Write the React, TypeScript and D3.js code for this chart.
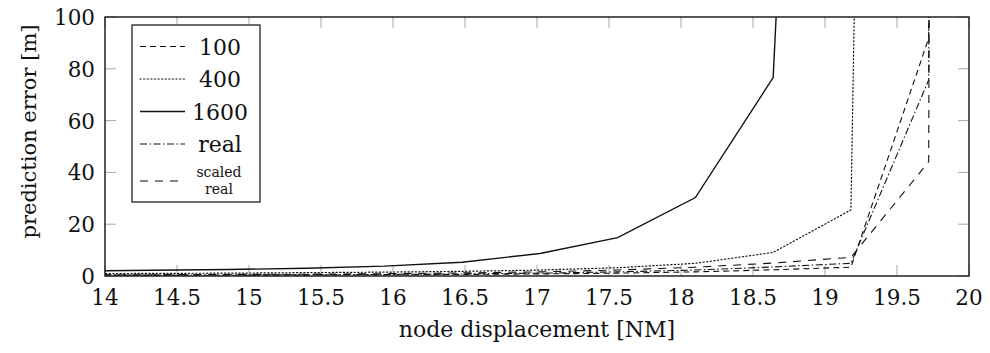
import React from "react";
import * as d3 from "d3";

// Node displacement samples [NM]
const displacement = [13.78, 14.32, 14.86, 15.4, 15.94, 16.48, 17.02, 17.56, 18.1, 18.64, 19.18, 19.72, 20.26];

// Prediction error [m] per configuration
const err100 = [0.2, 0.25, 0.3, 0.35, 0.45, 0.6, 0.8, 1.1, 1.6, 2.4, 3.4, 91.8, 10000];
const err400 = [0.9, 1.0, 1.1, 1.3, 1.5, 1.8, 2.3, 3.2, 4.9, 9.1, 25.5, 1775, 10000];
const err1600 = [1.9, 2.2, 2.5, 3.0, 3.8, 5.3, 8.7, 14.8, 30.3, 76.6, 690, 10000, 10000];
const errReal = [0.3, 0.35, 0.4, 0.5, 0.6, 0.8, 1.1, 1.6, 2.3, 3.5, 4.9, 75.7, 10000];
const errScaled = [0.4, 0.5, 0.6, 0.7, 0.9, 1.2, 1.6, 2.3, 3.4, 5.0, 7.2, 44.1, 10000];

const xTicks = [14, 14.5, 15, 15.5, 16, 16.5, 17, 17.5, 18, 18.5, 19, 19.5, 20];
const yTicks = [0, 20, 40, 60, 80, 100];

const seriesNames = ["100", "400", "1600", "real", "scaled real"];
const seriesValues = [err100, err400, err1600, errReal, errScaled];
const seriesDash = ["6 4", "1.2 2.4", "none", "7 2.5 1.5 2.5", "8 7"];
const seriesWidth = [1.1, 1.2, 1.4, 1.1, 1.1];

const W = 990;
const H = 353;
const margin = { left: 105, right: 21, top: 17, bottom: 77 };
const FONT = "DejaVu Serif";

export default function App() {
  const x = d3.scaleLinear().domain([14, 20]).range([margin.left, W - margin.right]);
  const y = d3.scaleLinear().domain([0, 100]).range([H - margin.bottom, margin.top]);
  const line = d3
    .line<[number, number]>()
    .x((d) => x(d[0]))
    .y((d) => y(d[1]));

  const x0 = x(14);
  const x1 = x(20);
  const y0 = y(0);
  const y1 = y(100);
  const tickLen = 11;
  const tickColor = "#a8a8a8";

  // legend geometry
  const lgX = 132;
  const lgY = 25;
  const lgW = 128;
  const lgH = 177;
  const rowY = [46.5, 79, 111.5, 144, 173];

  return (
    <svg
      width={W}
      height={H}
      style={{ position: "absolute", left: 0, top: 0, background: "#fff" }}
    >
      <defs>
        <clipPath id="plot-clip">
          <rect x={x0} y={y1} width={x1 - x0} height={y0 - y1} />
        </clipPath>
      </defs>

      {/* tick marks, mirrored on all four sides */}
      {xTicks.map((t) => (
        <g key={"xt" + t} stroke={tickColor} strokeWidth={1}>
          <line x1={x(t)} x2={x(t)} y1={y0} y2={y0 - tickLen} />
          <line x1={x(t)} x2={x(t)} y1={y1} y2={y1 + tickLen} />
        </g>
      ))}
      {yTicks.map((t) => (
        <g key={"yt" + t} stroke={tickColor} strokeWidth={1}>
          <line x1={x0} x2={x0 + tickLen} y1={y(t)} y2={y(t)} />
          <line x1={x1} x2={x1 - tickLen} y1={y(t)} y2={y(t)} />
        </g>
      ))}

      {/* series */}
      <g clipPath="url(#plot-clip)">
        {seriesValues.map((vals, i) => (
          <path
            key={seriesNames[i]}
            d={line(displacement.map((d, j) => [d, vals[j]]) as [number, number][]) || ""}
            fill="none"
            stroke="#111"
            strokeWidth={seriesWidth[i]}
            strokeDasharray={seriesDash[i]}
            strokeLinecap={i === 1 ? "round" : "butt"}
          />
        ))}
      </g>

      {/* axis frame */}
      <rect x={x0} y={y1} width={x1 - x0} height={y0 - y1} fill="none" stroke="#222" strokeWidth={1.5} />

      <g style={{ fontFamily: FONT }} fill="#111">
        {/* tick labels */}
        {xTicks.map((t) => (
          <text key={"xl" + t} x={x(t)} y={y0 + 29} textAnchor="middle" fontSize={21.5}>
            {t}
          </text>
        ))}
        {yTicks.map((t) => (
          <text key={"yl" + t} x={x0 - 10} y={y(t) + 8} textAnchor="end" fontSize={21.5}>
            {t}
          </text>
        ))}

        {/* axis titles */}
        <text x={(x0 + x1) / 2} y={H - 16} textAnchor="middle" fontSize={22}>
          node displacement [NM]
        </text>
        <text
          transform={`translate(${36},${(y0 + y1) / 2 - 15}) rotate(-90)`}
          textAnchor="middle"
          fontSize={21}
        >
          prediction error [m]
        </text>
      </g>

      {/* legend */}
      <rect x={lgX} y={lgY} width={lgW} height={lgH} fill="#fff" stroke="#222" strokeWidth={1.3} />
      {seriesNames.map((name, i) => (
        <g key={"lg" + name} style={{ fontFamily: FONT }} fill="#111">
          <line
            x1={lgX + 8}
            x2={lgX + 53}
            y1={rowY[i] + (i === 4 ? 8 : 0)}
            y2={rowY[i] + (i === 4 ? 8 : 0)}
            stroke="#111"
            strokeWidth={seriesWidth[i]}
            strokeDasharray={seriesDash[i]}
            strokeLinecap={i === 1 ? "round" : "butt"}
          />
          {i < 4 ? (
            <text x={lgX + 88} y={rowY[i] + 8} textAnchor="middle" fontSize={22}>
              {name}
            </text>
          ) : (
            <>
              <text x={lgX + 87} y={rowY[i] + 4} textAnchor="middle" fontSize={14}>
                scaled
              </text>
              <text x={lgX + 87} y={rowY[i] + 21} textAnchor="middle" fontSize={14}>
                real
              </text>
            </>
          )}
        </g>
      ))}
    </svg>
  );
}
